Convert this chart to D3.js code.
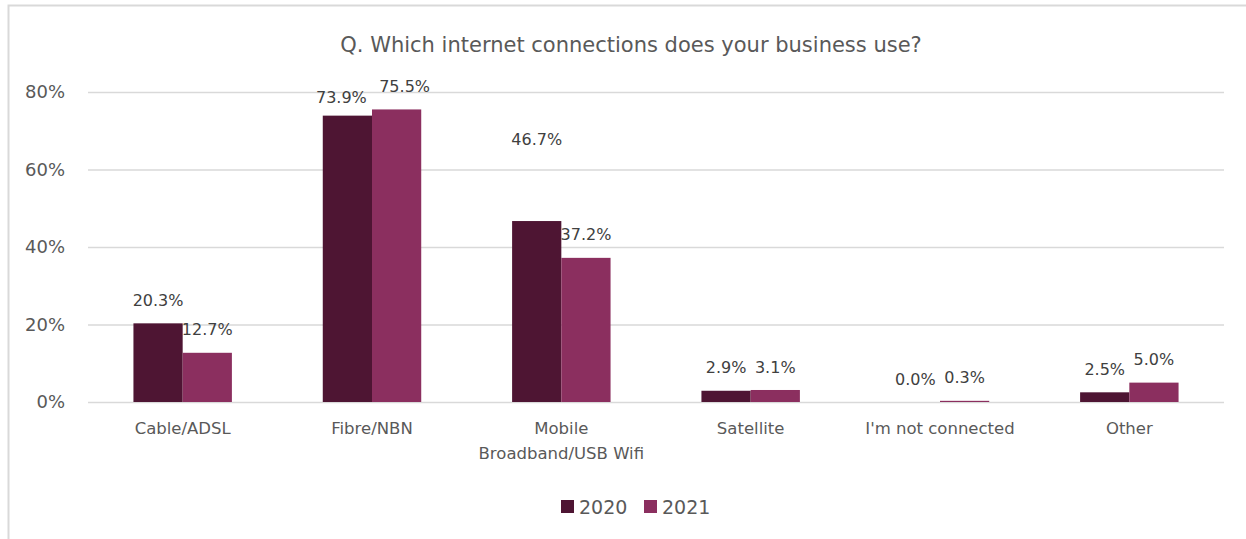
<!DOCTYPE html>
<html>
<head>
<meta charset="utf-8">
<script src="https://cdn.jsdelivr.net/npm/d3@7"></script>
<style>
  body { margin: 0; background: #fff; }
  text { font-family: "DejaVu Sans", sans-serif; fill: #595959; }
</style>
</head>
<body>
<svg id="drawing_region"></svg>
<script>
const categories = ['Cable/ADSL', 'Fibre/NBN', 'Mobile\nBroadband/USB Wifi', 'Satellite', "I'm not connected", 'Other'];
const seriesNames = ['2020', '2021'];
const values2020 = [20.3, 73.9, 46.7, 2.9, 0.0, 2.5];
const values2021 = [12.7, 75.5, 37.2, 3.1, 0.3, 5.0];
const yTicks = [0, 20, 40, 60, 80];
const title = 'Q. Which internet connections does your business use?';

const colors = ['#4e1533', '#8b2f5f'];
// hand-placed labels in the original (dx, dy in px)
const labelNudge = { '1-0': [-6, 5], '1-1': [8, 0], '2-0': [0, -59] };

class GroupedBar {
    constructor(config) {
        this.config = config;
        this.init();
    }

    init() {
        const self = this;
        const c = self.config;

        self.svg = d3.select(c.parent)
            .attr('width', c.width)
            .attr('height', c.height);

        // outer frame
        self.svg.append('rect')
            .attr('x', 8.5).attr('y', 5.5)
            .attr('width', c.width + 20).attr('height', c.height + 20)
            .attr('fill', 'none')
            .attr('stroke', '#d9d9d9')
            .attr('stroke-width', 2);

        self.xscale = d3.scaleBand()
            .domain(categories)
            .range([c.left, c.right])
            .paddingInner(0.48)
            .paddingOuter(0.24);

        self.inner = d3.scaleBand()
            .domain(seriesNames)
            .range([0, self.xscale.bandwidth()]);

        self.yscale = d3.scaleLinear()
            .domain([0, 80])
            .range([c.bottom, c.top]);
    }

    render() {
        const self = this;
        const c = self.config;
        const data = categories.map((cat, i) => ({
            cat, i, vals: [values2020[i], values2021[i]]
        }));

        // title
        self.svg.append('text')
            .attr('x', 631)
            .attr('y', 45)
            .attr('dy', '0.35em')
            .attr('text-anchor', 'middle')
            .style('font-size', '21px')
            .text(title);

        // gridlines + y labels
        const yaxis = d3.axisLeft(self.yscale)
            .tickValues(yTicks)
            .tickSize(-(c.right - c.left))
            .tickPadding(23)
            .tickFormat(d => d + '%');

        const yg = self.svg.append('g')
            .attr('transform', `translate(${c.left},0)`)
            .call(yaxis);
        yg.select('.domain').remove();
        yg.selectAll('.tick line')
            .attr('stroke', '#d9d9d9')
            .attr('stroke-width', 1.5);
        yg.selectAll('.tick text')
            .style('font-size', '18px')
            .style('font-family', '"DejaVu Sans", sans-serif')
            .attr('fill', '#595959');

        // bars
        const groups = self.svg.append('g').selectAll('g')
            .data(data)
            .join('g')
            .attr('transform', d => `translate(${self.xscale(d.cat)},0)`);

        groups.selectAll('rect')
            .data(d => d.vals.map((v, j) => ({ v, j, i: d.i })))
            .join('rect')
            .attr('x', d => self.inner(seriesNames[d.j]))
            .attr('width', self.inner.bandwidth())
            .attr('y', d => self.yscale(d.v))
            .attr('height', d => Math.max(c.bottom - self.yscale(d.v), 0))
            .attr('fill', d => colors[d.j]);

        // data labels
        groups.selectAll('text.lbl')
            .data(d => d.vals.map((v, j) => ({ v, j, i: d.i })))
            .join('text')
            .attr('class', 'lbl')
            .attr('x', d => self.inner(seriesNames[d.j]) + self.inner.bandwidth() / 2 + (labelNudge[d.i + '-' + d.j] || [0, 0])[0])
            .attr('y', d => self.yscale(d.v) - 23 + (labelNudge[d.i + '-' + d.j] || [0, 0])[1])
            .attr('dy', '0.35em')
            .attr('text-anchor', 'middle')
            .style('font-size', '16px')
            .style('fill', '#404040')
            .text(d => d.v.toFixed(1) + '%');

        // category labels
        const xl = self.svg.append('g').selectAll('text')
            .data(categories)
            .join('text')
            .attr('x', d => self.xscale(d) + self.xscale.bandwidth() / 2)
            .attr('y', 428)
            .attr('dy', '0.35em')
            .attr('text-anchor', 'middle')
            .style('font-size', '16.5px');
        xl.selectAll('tspan')
            .data(d => d.split('\n'))
            .join('tspan')
            .attr('x', function () { return d3.select(this.parentNode).attr('x'); })
            .attr('dy', (d, k) => k === 0 ? '0.35em' : '25px')
            .text(d => d);

        // legend
        const lg = self.svg.append('g').selectAll('g')
            .data(seriesNames)
            .join('g')
            .attr('transform', (d, j) => `translate(${561 + j * 83},500)`);
        lg.append('rect')
            .attr('width', 13).attr('height', 13)
            .attr('fill', (d, j) => colors[j]);
        lg.append('text')
            .attr('x', 18).attr('y', 7)
            .attr('dy', '0.35em')
            .style('font-size', '19px')
            .text(d => d);
    }
}

const chart = new GroupedBar({
    parent: '#drawing_region',
    width: 1246, height: 539,
    left: 88, right: 1224, top: 92, bottom: 402
});
chart.render();
</script>
</body>
</html>
